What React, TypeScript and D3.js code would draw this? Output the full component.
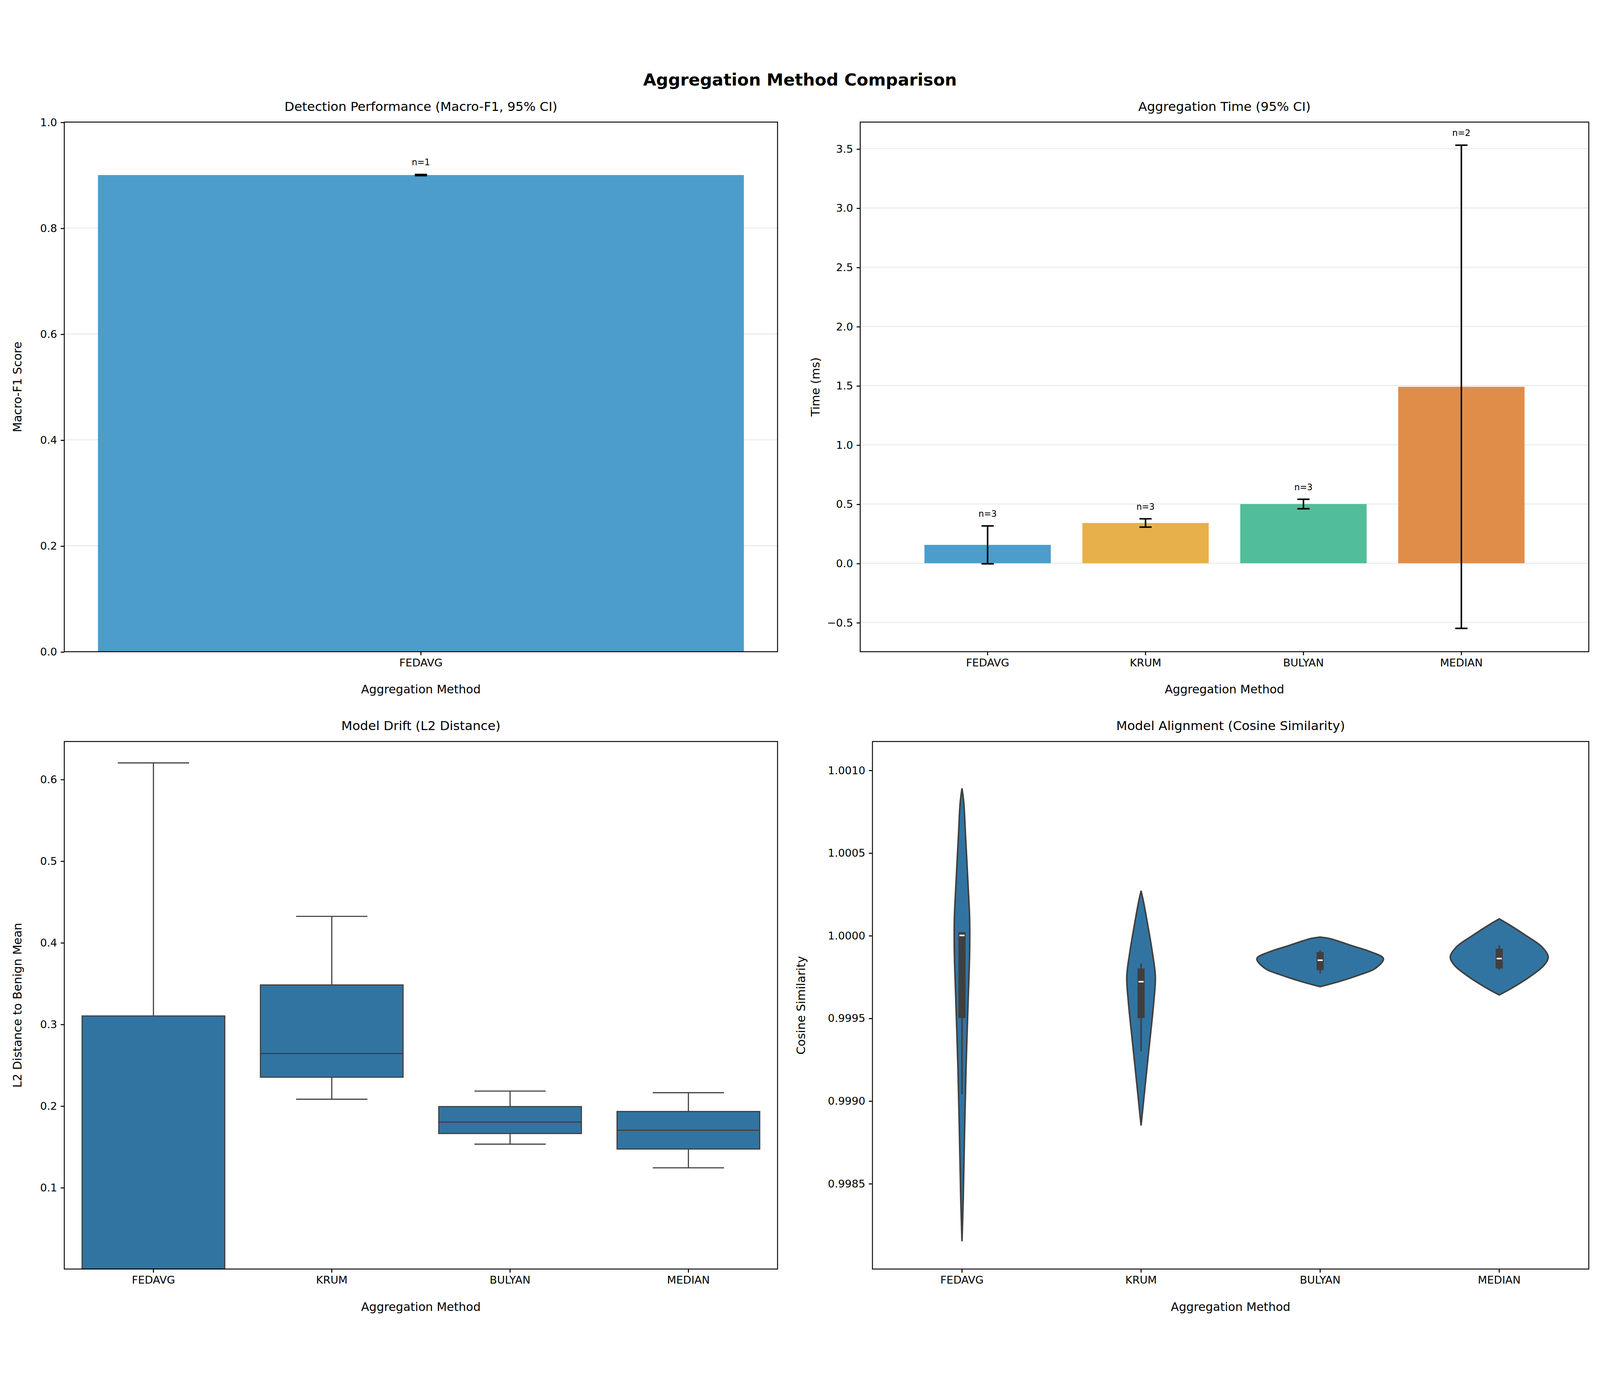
import React, { useEffect, useRef } from "react";
import * as d3 from "d3";

const methods = ["FEDAVG", "KRUM", "BULYAN", "MEDIAN"];

// Detection performance (Macro-F1)
const f1Methods = ["FEDAVG"];
const f1Mean = [0.9];
const f1Lo = [0.899];
const f1Hi = [0.901];
const f1N = [1];

// Aggregation time (ms)
const timeMean = [0.155, 0.34, 0.5, 1.49];
const timeLo = [-0.005, 0.305, 0.46, -0.55];
const timeHi = [0.315, 0.375, 0.54, 3.53];
const timeN = [3, 3, 3, 2];
const barColors = ["#4c9dcb", "#e8b04a", "#52bd9a", "#e08d4a"];

// Model drift box stats: [low whisker, q1, median, q3, high whisker]
const driftStats = [
  [0.0, 0.0, 0.0, 0.31, 0.62],
  [0.208, 0.235, 0.264, 0.348, 0.432],
  [0.153, 0.166, 0.18, 0.199, 0.218],
  [0.124, 0.147, 0.17, 0.193, 0.216],
];

// Cosine similarity violin profiles: [value, half width]
const violinProfiles: [number, number][][] = [
  [[0.99815, 0], [0.9984, 1.2], [0.9988, 2.5], [0.9992, 4], [0.9996, 6], [0.9999, 7.5], [1.0001, 7.5], [1.0003, 6], [1.0006, 3.5], [1.0008, 1.8], [1.00089, 0]],
  [[0.99885, 0], [0.999, 2.5], [0.9993, 7.5], [0.9996, 12.5], [0.99975, 14], [0.9999, 11], [1.0001, 5.5], [1.0002, 2.5], [1.00027, 0]],
  [[0.99969, 0], [0.99972, 18], [0.99976, 38], [0.9998, 54], [0.99986, 62], [0.9999, 50], [0.99994, 30], [0.99998, 10], [0.99999, 0]],
  [[0.99964, 0], [0.99968, 12], [0.99975, 30], [0.99982, 44], [0.99987, 48], [0.99993, 42], [1.0, 26], [1.00006, 11], [1.0001, 0]],
];
// [whisker lo, q1, median, q3, whisker hi]
const violinStats = [
  [0.99904, 0.9995, 1.0, 1.00002, 1.00002],
  [0.9993, 0.9995, 0.99972, 0.9998, 0.99983],
  [0.99977, 0.99979, 0.99985, 0.9999, 0.99991],
  [0.99979, 0.9998, 0.99986, 0.99992, 0.99994],
];

const FONT = "DejaVu Sans, sans-serif";

const App: React.FC = () => {
  const ref = useRef<SVGSVGElement | null>(null);

  useEffect(() => {
    if (!ref.current) return;
    const root = d3.select(ref.current);
    root.selectAll("*").remove();

    root.append("rect").attr("width", 1568).attr("height", 1243).attr("fill", "#fff");
    root.append("text").attr("x", 784).attr("y", 27).attr("text-anchor", "middle")
      .attr("font-size", 16.5).attr("font-weight", "bold").attr("font-family", FONT)
      .text("Aggregation Method Comparison");

    const panel = (x0: number, y0: number, x1: number, y1: number, title: string, xlabel: string | null) => {
      const g = root.append("g");
      g.append("text").attr("x", (x0 + x1) / 2).attr("y", y0 - 11).attr("text-anchor", "middle")
        .attr("font-size", 12.5).attr("font-family", FONT).text(title);
      if (xlabel) g.append("text").attr("x", (x0 + x1) / 2).attr("y", y1 + 41).attr("text-anchor", "middle")
        .attr("font-size", 11.5).attr("font-family", FONT).text(xlabel);
      return g;
    };

    const yAxis = (g: any, y: d3.ScaleLinear<number, number>, x0: number, ticks: number[], fmt: (v: number) => string, labelX: number, label: string, y0: number, y1: number, x1: number, grid: boolean) => {
      if (grid) {
        g.append("g").selectAll("line").data(ticks).enter().append("line")
          .attr("x1", x0).attr("x2", x1).attr("y1", (d: number) => y(d)).attr("y2", (d: number) => y(d))
          .attr("stroke", "#e6e6e6").attr("stroke-width", 0.8);
      }
      const ax = g.append("g").attr("transform", `translate(${x0},0)`)
        .call(d3.axisLeft(y).tickValues(ticks).tickFormat(fmt as any).tickSize(3.5).tickPadding(3.5));
      ax.select(".domain").remove();
      ax.selectAll("text").attr("font-size", 10.5).attr("font-family", FONT).attr("fill", "#000");
      ax.selectAll("line").attr("stroke", "#000");
      g.append("text").attr("transform", `translate(${labelX},${(y0 + y1) / 2}) rotate(-90)`)
        .attr("text-anchor", "middle").attr("font-size", 11.5).attr("font-family", FONT).text(label);
    };

    const xAxis = (g: any, x: d3.ScaleBand<string>, y1: number) => {
      const ax = g.append("g").attr("transform", `translate(0,${y1})`)
        .call(d3.axisBottom(x).tickSize(3.5).tickPadding(3.5));
      ax.select(".domain").remove();
      ax.selectAll("text").attr("font-size", 10.5).attr("font-family", FONT).attr("fill", "#000");
      ax.selectAll("line").attr("stroke", "#000");
    };

    const frame = (g: any, x0: number, y0: number, x1: number, y1: number) => {
      g.append("rect").attr("x", x0).attr("y", y0).attr("width", x1 - x0).attr("height", y1 - y0)
        .attr("fill", "none").attr("stroke", "#000").attr("stroke-width", 0.9);
    };

    const errorBars = (g: any, x: d3.ScaleBand<string>, y: d3.ScaleLinear<number, number>, cats: string[], lo: number[], hi: number[], n: number[]) => {
      cats.forEach((c, i) => {
        const cx = x(c)! + x.bandwidth() / 2;
        g.append("line").attr("x1", cx).attr("x2", cx).attr("y1", y(lo[i])).attr("y2", y(hi[i])).attr("stroke", "#000").attr("stroke-width", 1.5);
        [lo[i], hi[i]].forEach((v) => g.append("line").attr("x1", cx - 6).attr("x2", cx + 6).attr("y1", y(v)).attr("y2", y(v)).attr("stroke", "#000").attr("stroke-width", 1.5));
        g.append("text").attr("x", cx).attr("y", y(hi[i]) - 9).attr("text-anchor", "middle")
          .attr("font-size", 8.5).attr("font-family", FONT).text(`n=${n[i]}`);
      });
    };

    // Panel 1
    {
      const [x0, y0, x1, y1] = [63, 63, 762, 582];
      const g = panel(x0, y0, x1, y1, "Detection Performance (Macro-F1, 95% CI)", "Aggregation Method");
      const x = d3.scaleBand().domain(f1Methods).range([x0 + 33, x1 - 33]).padding(0);
      const y = d3.scaleLinear().domain([0, 1]).range([y1, y0]);
      yAxis(g, y, x0, [0, 0.2, 0.4, 0.6, 0.8, 1.0], d3.format(".1f"), 21, "Macro-F1 Score", y0, y1, x1, true);
      g.selectAll("rect.bar").data(f1Methods).enter().append("rect")
        .attr("x", (d) => x(d)!).attr("width", x.bandwidth())
        .attr("y", (_d, i) => y(f1Mean[i])).attr("height", (_d, i) => y(0) - y(f1Mean[i]))
        .attr("fill", barColors[0]);
      errorBars(g, x, y, f1Methods, f1Lo, f1Hi, f1N);
      xAxis(g, x, y1);
      frame(g, x0, y0, x1, y1);
    }

    // Panel 2
    {
      const [x0, y0, x1, y1] = [843, 63, 1557, 582];
      const g = panel(x0, y0, x1, y1, "Aggregation Time (95% CI)", "Aggregation Method");
      const x = d3.scaleBand().domain(methods).range([x0 + 32, x1 - 32]).padding(0.2);
      const y = d3.scaleLinear().domain([-0.747, 3.725]).range([y1, y0]);
      const ticks = [-0.5, 0, 0.5, 1, 1.5, 2, 2.5, 3, 3.5];
      yAxis(g, y, x0, ticks, d3.format(".1f"), 803, "Time (ms)", y0, y1, x1, true);
      g.selectAll("rect.bar").data(methods).enter().append("rect")
        .attr("x", (d) => x(d)!).attr("width", x.bandwidth())
        .attr("y", (_d, i) => y(timeMean[i])).attr("height", (_d, i) => y(0) - y(timeMean[i]))
        .attr("fill", (_d, i) => barColors[i]);
      errorBars(g, x, y, methods, timeLo, timeHi, timeN);
      xAxis(g, x, y1);
      frame(g, x0, y0, x1, y1);
    }

    // Panel 3
    {
      const [x0, y0, x1, y1] = [63, 670, 762, 1187];
      const g = panel(x0, y0, x1, y1, "Model Drift (L2 Distance)", "Aggregation Method");
      const x = d3.scaleBand().domain(methods).range([x0, x1]).padding(0);
      const y = d3.scaleLinear().domain([0, 0.6462]).range([y1, y0]);
      yAxis(g, y, x0, [0.1, 0.2, 0.3, 0.4, 0.5, 0.6], d3.format(".1f"), 21, "L2 Distance to Benign Mean", y0, y1, x1, false);
      g.append("clipPath").attr("id", "clipBL").append("rect").attr("x", x0).attr("y", y0).attr("width", x1 - x0).attr("height", y1 - y0);
      const inner = g.append("g").attr("clip-path", "url(#clipBL)");
      methods.forEach((m, i) => {
        const [lo, q1, med, q3, hi] = driftStats[i];
        const bw = x.bandwidth() * 0.8;
        const cx = x(m)! + x.bandwidth() / 2;
        const st = "#3f3f3f";
        inner.append("line").attr("x1", cx).attr("x2", cx).attr("y1", y(q3)).attr("y2", y(hi)).attr("stroke", st).attr("stroke-width", 1.1);
        inner.append("line").attr("x1", cx).attr("x2", cx).attr("y1", y(q1)).attr("y2", y(lo)).attr("stroke", st).attr("stroke-width", 1.1);
        inner.append("line").attr("x1", cx - bw / 4).attr("x2", cx + bw / 4).attr("y1", y(hi)).attr("y2", y(hi)).attr("stroke", st).attr("stroke-width", 1.1);
        inner.append("line").attr("x1", cx - bw / 4).attr("x2", cx + bw / 4).attr("y1", y(lo)).attr("y2", y(lo)).attr("stroke", st).attr("stroke-width", 1.1);
        inner.append("rect").attr("x", cx - bw / 2).attr("width", bw).attr("y", y(q3)).attr("height", y(q1) - y(q3))
          .attr("fill", "#3274a1").attr("stroke", st).attr("stroke-width", 1.1);
        inner.append("line").attr("x1", cx - bw / 2).attr("x2", cx + bw / 2).attr("y1", y(med)).attr("y2", y(med)).attr("stroke", st).attr("stroke-width", 1.1);
      });
      xAxis(g, x, y1);
      frame(g, x0, y0, x1, y1);
    }

    // Panel 4
    {
      const [x0, y0, x1, y1] = [855, 670, 1557, 1187];
      const g = panel(x0, y0, x1, y1, "Model Alignment (Cosine Similarity)", "Aggregation Method");
      const x = d3.scaleBand().domain(methods).range([x0, x1]).padding(0);
      const y = d3.scaleLinear().domain([0.997982, 1.001173]).range([y1, y0]);
      yAxis(g, y, x0, [0.9985, 0.999, 0.9995, 1.0, 1.0005, 1.001], d3.format(".4f"), 789, "Cosine Similarity", y0, y1, x1, false);
      methods.forEach((m, i) => {
        const cx = x(m)! + x.bandwidth() / 2;
        const prof = violinProfiles[i];
        const area = d3.area<[number, number]>()
          .y((d) => y(d[0])).x0((d) => cx - d[1]).x1((d) => cx + d[1])
          .curve(d3.curveCatmullRom);
        g.append("path").attr("d", area(prof)!).attr("fill", "#3274a1").attr("stroke", "#3f3f3f").attr("stroke-width", 1.5);
        const [wl, q1, med, q3, wh] = violinStats[i];
        g.append("line").attr("x1", cx).attr("x2", cx).attr("y1", y(wl)).attr("y2", y(wh)).attr("stroke", "#3f3f3f").attr("stroke-width", 1.5);
        g.append("rect").attr("x", cx - 3.5).attr("width", 7).attr("y", y(q3)).attr("height", y(q1) - y(q3)).attr("fill", "#3f3f3f");
        g.append("line").attr("x1", cx - 2.5).attr("x2", cx + 2.5).attr("y1", y(med)).attr("y2", y(med)).attr("stroke", "#fff").attr("stroke-width", 1.5);
      });
      xAxis(g, x, y1);
      frame(g, x0, y0, x1, y1);
    }
  }, []);

  return (
    <svg ref={ref} viewBox="0 0 1568 1243"
      style={{ position: "absolute", left: 0, top: 0, width: "100vw", height: "100vh", display: "block" }} />
  );
};

export default App;
